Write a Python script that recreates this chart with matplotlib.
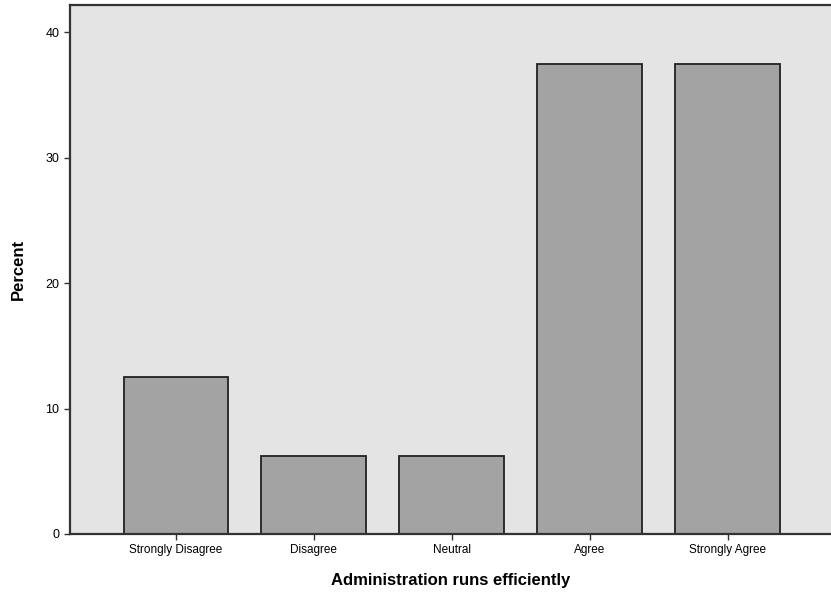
import matplotlib.pyplot as plt

categories = ["Strongly Disagree", "Disagree", "Neutral", "Agree", "Strongly Agree"]
percents = [12.5, 6.25, 6.25, 37.5, 37.5]
yticks = [0, 10, 20, 30, 40]

plt.rcParams['font.family'] = ['Liberation Sans', 'DejaVu Sans']

fig = plt.figure(figsize=(8.31, 6.02), dpi=100)
ax = fig.add_axes([0.084, 0.113, 0.916, 0.879])
ax.set_facecolor('#e4e4e4')

x = range(len(categories))
ax.bar(x, percents, width=0.76, color='#a3a3a3', edgecolor='#222222', linewidth=1.3)

ax.set_xlim(-0.77, 4.75)
ax.set_ylim(0, 42.2)
ax.set_xticks(list(x))
ax.set_xticklabels(categories, fontsize=8.5)
ax.set_yticks(yticks)
ax.set_yticklabels([str(t) for t in yticks], fontsize=9)
ax.tick_params(axis='both', length=4, width=1, color='#333333')

for side in ['left', 'bottom', 'top']:
    ax.spines[side].set_linewidth(1.6)
    ax.spines[side].set_color('#333333')
ax.spines['right'].set_visible(False)

ax.set_xlabel("Administration runs efficiently", fontsize=12, fontweight='bold', labelpad=12)
ax.set_ylabel("Percent", fontsize=12, fontweight='bold', labelpad=14)

fig.savefig("out.png", dpi=100)
